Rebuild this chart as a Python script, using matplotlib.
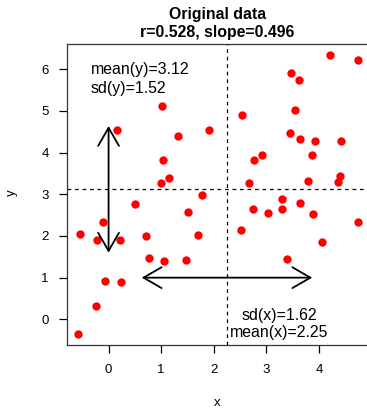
import matplotlib
matplotlib.use("Agg")
import matplotlib.pyplot as plt

plt.rcParams['font.family'] = ['Liberation Sans', 'DejaVu Sans']

# values
x = [1.020, 0.153, 1.319, 1.918, 1.039, 1.151, 0.990, 1.769,
     4.204, 4.738, 3.458, 3.610, 3.538, 2.536, 3.445, 3.635, 3.924, 4.424,
     2.922, 2.764, 3.858, 2.678, 3.785, 4.396, 4.363, 3.291,
     0.495, 1.505, -0.114, -0.545, -0.228, 0.210, 0.716, 1.693, 0.773,
     1.047, 1.480, -0.064, 0.240, -0.241, -0.583,
     2.754, 3.021, 3.302, 3.645, 3.892, 4.732, 2.522, 4.048, 3.397]
y = [5.112, 4.543, 4.411, 4.548, 3.818, 3.386, 3.266, 2.983,
     6.350, 6.223, 5.904, 5.736, 5.018, 4.903, 4.464, 4.339, 4.286, 4.272,
     3.948, 3.816, 3.936, 3.266, 3.326, 3.439, 3.290, 2.892,
     2.760, 2.568, 2.328, 2.054, 1.898, 1.903, 1.989, 2.035, 1.469,
     1.406, 1.418, 0.914, 0.895, 0.319, -0.360,
     2.647, 2.558, 2.640, 2.791, 2.527, 2.328, 2.153, 1.867, 1.454]

mean_x, sd_x = 2.25, 1.62
mean_y, sd_y = 3.12, 1.52
r, slope = 0.528, 0.496

fig = plt.figure(figsize=(3.67, 4.08), dpi=100)
ax = fig.add_axes([0.1817, 0.1532, 0.824, 0.740])

ax.plot(x, y, 'o', color='red', markersize=6, markeredgewidth=0)

ax.axvline(mean_x, color='black', lw=0.9, dashes=(3, 3))
ax.axhline(mean_y, color='black', lw=0.9, dashes=(3, 3))

arrow = dict(arrowstyle='<->, head_length=1.3, head_width=0.75', color='black', lw=1.3,
             shrinkA=0, shrinkB=0)
ax.annotate('', xy=(0, mean_y + sd_y), xytext=(0, mean_y - sd_y), arrowprops=arrow)
ax.annotate('', xy=(mean_x + sd_x, 1), xytext=(mean_x - sd_x, 1), arrowprops=arrow)

ax.text(-0.34, 6.0, f'mean(y)={mean_y:.2f}', fontsize=11.4, ha='left', va='center')
ax.text(-0.34, 5.53, f'sd(y)={sd_y:.2f}', fontsize=11.4, ha='left', va='center')
ax.text(3.25, 0.08, f'sd(x)={sd_x:.2f}', fontsize=11.4, ha='center', va='center')
ax.text(3.25, -0.32, f'mean(x)={mean_x:.2f}', fontsize=11.4, ha='center', va='center')

ax.set_xlim(-0.796, 4.951)
ax.set_ylim(-0.628, 6.618)
ax.set_xticks([0, 1, 2, 3, 4])
ax.set_yticks([0, 1, 2, 3, 4, 5, 6])
ax.tick_params(direction='out', length=6, width=0.9, labelsize=9.5, pad=7)
for s in ax.spines.values():
    s.set_linewidth(0.9)
    s.set_color('#333333')

fig.text(0.1817 + 0.824 / 2 - 0.002, 0.9424, f'Original data\nr={r}, slope={slope}',
         ha='center', va='center', fontsize=11.4, fontweight='bold', linespacing=1.2)
fig.text(0.593, 1 - 402.7 / 408, 'x', ha='center', va='center', fontsize=9.5)
fig.text(12 / 367, 1 - 193 / 408, 'y', ha='center', va='center', fontsize=9.5, rotation=90)

fig.savefig('out.png', dpi=100)
